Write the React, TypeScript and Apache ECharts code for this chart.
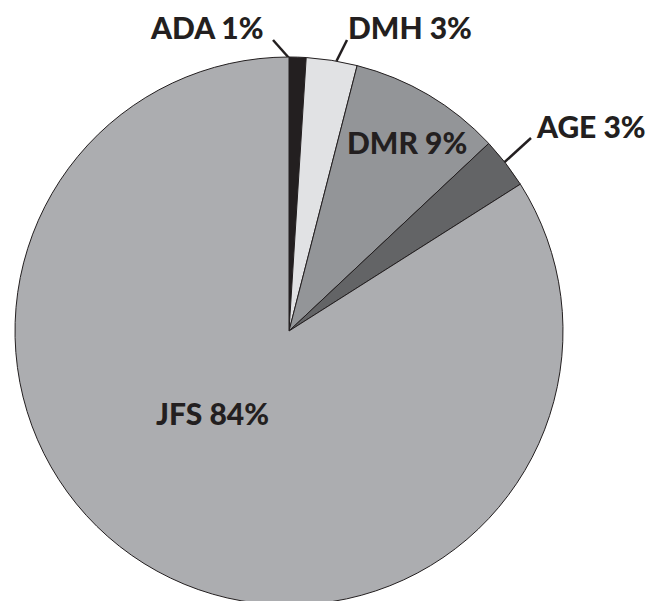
import React, { useEffect, useRef } from "react";
import * as echarts from "echarts";

const categories = ["ADA", "DMH", "DMR", "AGE", "JFS"];
const values = [1, 3, 9, 3, 84];
const colors = ["#231f20", "#e1e2e4", "#939598", "#636466", "#acadb0"];

// label layout (left x, middle y) and leader line points, in pixels
const labelPos: [number, number][] = [
  [151, 27],
  [348, 27],
  [347, 142],
  [537, 126],
  [156, 413],
];
const leaderLines: ([number, number][] | null)[] = [
  [[289, 58], [273, 40]],
  [[331, 72], [347, 40]],
  null,
  [[497, 169], [531, 138]],
  null,
];

export default function App() {
  const ref = useRef<HTMLDivElement>(null);
  useEffect(() => {
    if (!ref.current) return;
    const chart = echarts.init(ref.current, undefined, { renderer: "svg" });
    const data = categories.map((name, i) => ({
      name,
      value: values[i],
      itemStyle: { color: colors[i] },
      labelLine: { show: leaderLines[i] !== null },
    }));
    chart.setOption({
      animation: false,
      backgroundColor: "#ffffff",
      series: [
        {
          type: "pie",
          center: [289, 331],
          radius: 274,
          startAngle: 90,
          clockwise: true,
          avoidLabelOverlap: false,
          data,
          itemStyle: { borderColor: "#231f20", borderWidth: 1 },
          label: {
            show: true,
            position: "outside",
            formatter: (p: any) => `${p.name} ${p.value}%`,
            fontFamily: "Lato",
            fontWeight: 900,
            fontSize: 30,
            color: "#231f20",
          },
          labelLine: {
            show: true,
            lineStyle: { color: "#231f20", width: 2.5 },
          },
          labelLayout: (params: any) => {
            const i = params.dataIndex;
            const out: any = {
              x: labelPos[i][0],
              y: labelPos[i][1],
              align: "left",
              verticalAlign: "middle",
            };
            const ll = leaderLines[i];
            if (ll) out.labelLinePoints = [ll[0], ll[1], ll[1]];
            return out;
          },
        },
      ],
    });
    return () => chart.dispose();
  }, []);
  return (
    <div
      ref={ref}
      style={{ position: "fixed", left: 0, top: 0, width: 654, height: 601 }}
    />
  );
}
